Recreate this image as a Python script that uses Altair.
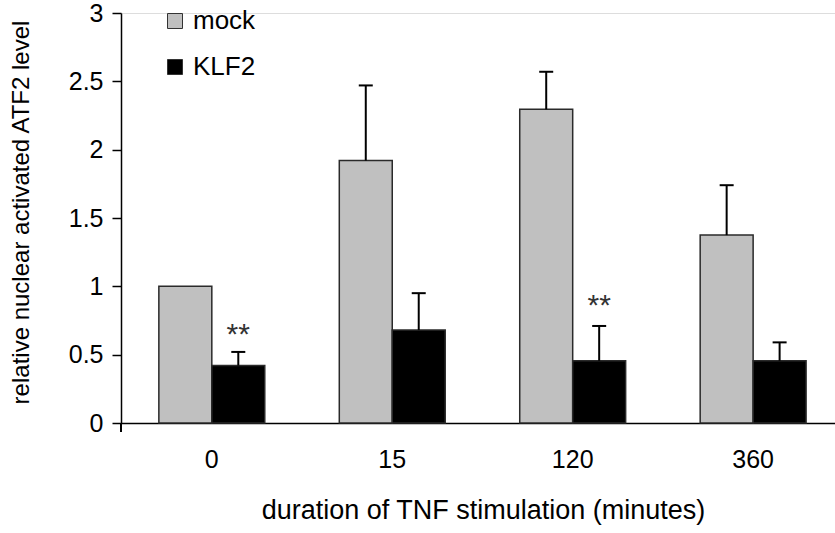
import altair as alt
import pandas as pd

durations = ["0", "15", "120", "360"]
groups = ["mock", "KLF2"]
mock_vals = [1.0, 1.92, 2.295, 1.375]
klf2_vals = [0.42, 0.68, 0.455, 0.455]
mock_err = [0.0, 0.55, 0.275, 0.365]
klf2_err = [0.10, 0.27, 0.255, 0.135]
sig_text = ["**", "", "**", ""]
sig_y = [0.70, 0.0, 0.915, 0.0]

rows = []
for i, d in enumerate(durations):
    rows.append(dict(duration=d, group="mock", value=mock_vals[i], err=mock_err[i],
                     upper=mock_vals[i] + mock_err[i]))
    rows.append(dict(duration=d, group="KLF2", value=klf2_vals[i], err=klf2_err[i],
                     upper=klf2_vals[i] + klf2_err[i]))
df = pd.DataFrame(rows)
sig = pd.DataFrame({"duration": durations, "group": ["KLF2"] * 4, "y": sig_y, "text": sig_text})
sig = sig[sig["text"] != ""]

FONT = "Liberation Sans, Arial, sans-serif"

x_scale = alt.Scale(domain=durations, paddingInner=0.413, paddingOuter=0.185, align=0.567)
xoff_scale = alt.Scale(domain=groups, paddingInner=0, paddingOuter=0)
y_scale = alt.Scale(domain=[0, 3], nice=False)
color_scale = alt.Scale(domain=groups, range=["#c0c0c0", "#000000"])

x_axis = alt.Axis(title="duration of TNF stimulation (minutes)", labelAngle=0, ticks=False,
                  domainColor="black", domainWidth=1.5, labelFontSize=25, labelPadding=24,
                  labelColor="black", titleFontSize=27, titleFontWeight="normal",
                  titleColor="black", titleX=362, titleY=87, titleBaseline="middle",
                  titleAlign="center")
y_axis = alt.Axis(title="relative nuclear activated ATF2 level",
                  values=[0, 0.5, 1, 1.5, 2, 2.5, 3], format="~g", grid=False,
                  tickSize=9, tickColor="black", tickWidth=1.5, domainColor="black",
                  domainWidth=1.5, labelFontSize=25, labelPadding=9, labelColor="black",
                  titleFontSize=24, titleFontWeight="normal", titleColor="black",
                  titleX=-100, titleY=199, titleAngle=270, titleAlign="center",
                  titleBaseline="middle")

X = alt.X("duration:N", scale=x_scale, sort=durations, axis=x_axis)
XO = alt.XOffset("group:N", scale=xoff_scale, sort=groups)

bars = alt.Chart(df).mark_bar(stroke="#2a2a2a", strokeWidth=1.5).encode(
    x=X,
    xOffset=XO,
    y=alt.Y("value:Q", scale=y_scale, axis=y_axis),
    color=alt.Color("group:N", scale=color_scale, sort=groups,
                    legend=alt.Legend(title=None, orient="none", legendX=41, legendY=-5,
                                      symbolType="square", symbolSize=225,
                                      symbolStrokeColor="#333333", symbolStrokeWidth=1,
                                      symbolOpacity=1, labelFontSize=26, labelOffset=5,
                                      labelColor="black", rowPadding=20, padding=0)),
)

err_data = alt.Chart(df).transform_filter("datum.err > 0")
err_rule = err_data.mark_rule(color="black", strokeWidth=2).encode(
    x=X, xOffset=XO, y=alt.Y("value:Q", scale=y_scale), y2="upper:Q")
err_cap = err_data.mark_tick(color="black", size=14, thickness=2, opacity=1).encode(
    x=X, xOffset=XO, y=alt.Y("upper:Q", scale=y_scale))

stars = alt.Chart(sig).mark_text(fontSize=30, color="#333333", baseline="middle", dy=8).encode(
    x=X, xOffset=XO, y=alt.Y("y:Q", scale=y_scale), text="text:N")

axis_ext = alt.Chart(df).mark_rule(color="black", strokeWidth=1.5).encode(
    x=alt.value(0), y=alt.value(410), y2=alt.value(419))

chart = alt.layer(bars, err_rule, err_cap, stars, axis_ext).properties(
    width=714, height=410,
    autosize=alt.AutoSizeParams(type="none"),
    padding={"left": 121, "top": 13, "right": 0, "bottom": 110},
).configure_view(stroke=None).configure(font=FONT)

chart.save("out.html", embed_options={"renderer": "svg", "actions": False})
